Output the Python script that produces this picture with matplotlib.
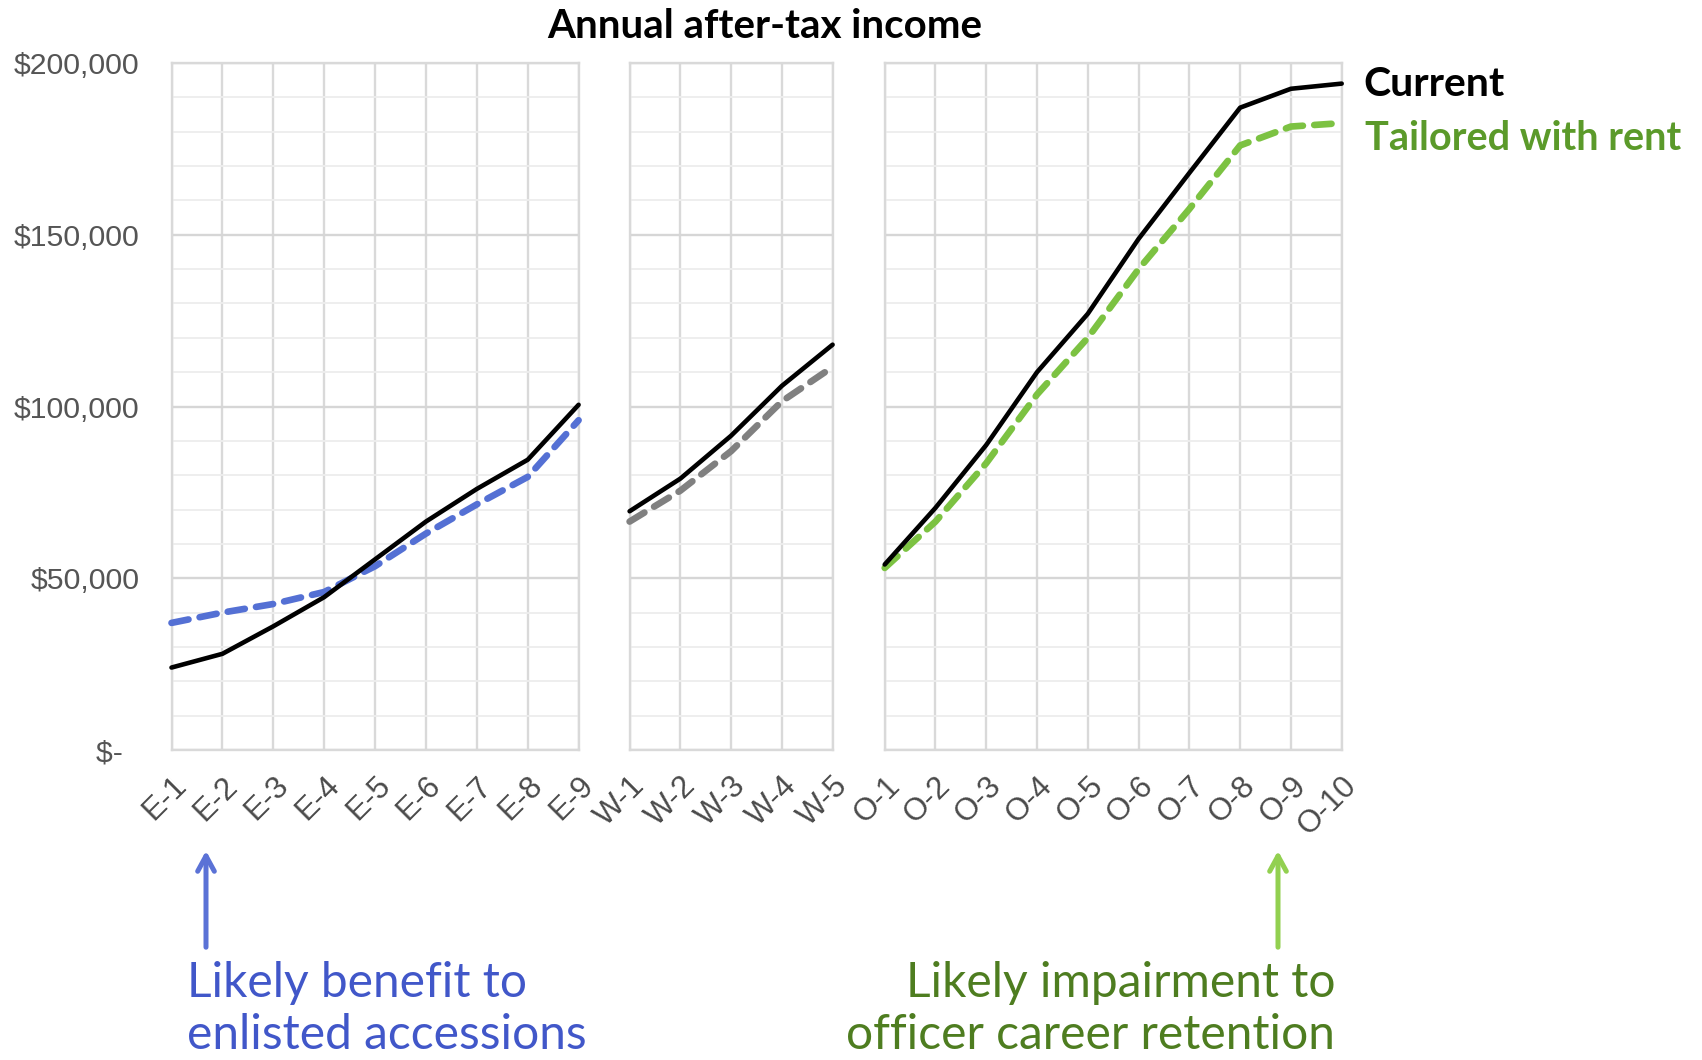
import numpy as np
import matplotlib.pyplot as plt
from matplotlib.patches import FancyArrowPatch
from matplotlib.ticker import FuncFormatter, MultipleLocator

# pay grades
enlisted = ['E-1', 'E-2', 'E-3', 'E-4', 'E-5', 'E-6', 'E-7', 'E-8', 'E-9']
warrant = ['W-1', 'W-2', 'W-3', 'W-4', 'W-5']
officer = ['O-1', 'O-2', 'O-3', 'O-4', 'O-5', 'O-6', 'O-7', 'O-8', 'O-9', 'O-10']

# annual after-tax income, current system vs tailored with rent
enlisted_current = [24000, 28000, 36000, 44500, 55500, 66500, 76000, 84500, 100500]
enlisted_tailored = [37000, 40000, 42500, 46000, 53500, 63000, 71500, 79500, 96000]
warrant_current = [69500, 79000, 91500, 106000, 118000]
warrant_tailored = [66500, 75500, 87000, 101500, 111500]
officer_current = [54000, 70500, 88800, 110000, 127000, 148800, 168000, 187000, 192500, 194000]
officer_tailored = [53000, 66500, 83500, 103500, 120000, 140000, 157500, 176000, 181500, 182500]

W, H = 1702, 1060
fig = plt.figure(figsize=(W / 100, H / 100), dpi=100)

TICK_FONT = ['Liberation Sans', 'DejaVu Sans']
TEXT_FONT = ['Lato', 'DejaVu Sans']

# panel pixel extents (left, right) and the data they hold
panels = [
    (171.5, 578.6, enlisted, enlisted_current, enlisted_tailored, '#5470d4'),
    (629.6, 832.6, warrant, warrant_current, warrant_tailored, '#808080'),
    (884.7, 1341.7, officer, officer_current, officer_tailored, '#7cc242'),
]
top_px, bottom_px = 63, 750


def money(v, pos):
    if v == 0:
        return '$-  '
    return f'${v:,.0f}'


for i, (x0, x1, cats, cur, tail, col) in enumerate(panels):
    ax = fig.add_axes([x0 / W, 1 - bottom_px / H, (x1 - x0) / W, (bottom_px - top_px) / H])
    x = np.arange(len(cats))
    ax.plot(x, cur, color='black', lw=3.3, solid_capstyle='round',
            solid_joinstyle='round', clip_on=False, zorder=4)
    ax.plot(x, tail, color=col, lw=4.8, dashes=(2.6, 1.7), dash_capstyle='round',
            clip_on=False, zorder=3)

    ax.set_xlim(0, len(cats) - 1)
    ax.set_ylim(0, 200000)
    ax.set_xticks(x)
    ax.set_xticklabels(cats, rotation=45, ha='right', va='top',
                       rotation_mode='anchor', fontsize=22.5, color='#4a4a4a',
                       family=TICK_FONT)
    ax.set_yticks(np.arange(0, 200001, 50000))
    ax.yaxis.set_minor_locator(MultipleLocator(10000))
    if i == 0:
        ax.yaxis.set_major_formatter(FuncFormatter(money))
        for lab in ax.get_yticklabels():
            lab.set_fontsize(21.8)
            lab.set_color('#555555')
            lab.set_family(TICK_FONT)
    else:
        ax.set_yticklabels([])

    ax.tick_params(which='both', length=0)
    ax.tick_params(axis='y', pad=23)
    ax.tick_params(axis='x', pad=15)
    ax.grid(which='minor', axis='y', color='#ededed', lw=1.3)
    ax.grid(which='major', axis='y', color='#d6d6d6', lw=1.7)
    ax.grid(which='major', axis='x', color='#d9d9d9', lw=1.7)
    ax.set_axisbelow(True)
    for s in ax.spines.values():
        s.set_color('#d9d9d9')
        s.set_linewidth(1.7)


def ftext(x, y, s, **kw):
    fig.text(x / W, 1 - y / H, s, **kw)


ftext(765, 26, 'Annual after-tax income', ha='center', va='center',
      fontsize=29, weight='bold', family=TEXT_FONT)
ftext(1363, 84, 'Current', ha='left', va='center', fontsize=29.5,
      weight='bold', family=TEXT_FONT, color='black')
ftext(1365, 138, 'Tailored with rent', ha='left', va='center', fontsize=28.5,
      weight='bold', family=TEXT_FONT, color='#5b9a2a')

ftext(187, 1009, 'Likely benefit to\nenlisted accessions', ha='left', va='center',
      fontsize=34.5, family=TEXT_FONT, color='#4157c9', linespacing=1.24)
ftext(1335, 1009, 'Likely impairment to\nofficer career retention', ha='right',
      va='center', fontsize=34.5, family=TEXT_FONT, color='#4e7d20',
      linespacing=1.24, multialignment='right')

# arrows pointing up at the affected grades
for ax_x, col in [(206, '#5b72d6'), (1278, '#92d050')]:
    fig.add_artist(FancyArrowPatch(
        (ax_x / W, 1 - 950 / H), (ax_x / W, 1 - 848 / H),
        transform=fig.transFigure, arrowstyle='->,head_length=11,head_width=6',
        color=col, lw=3.6, mutation_scale=1, capstyle='round'))

fig.savefig('out.png', dpi=100)
